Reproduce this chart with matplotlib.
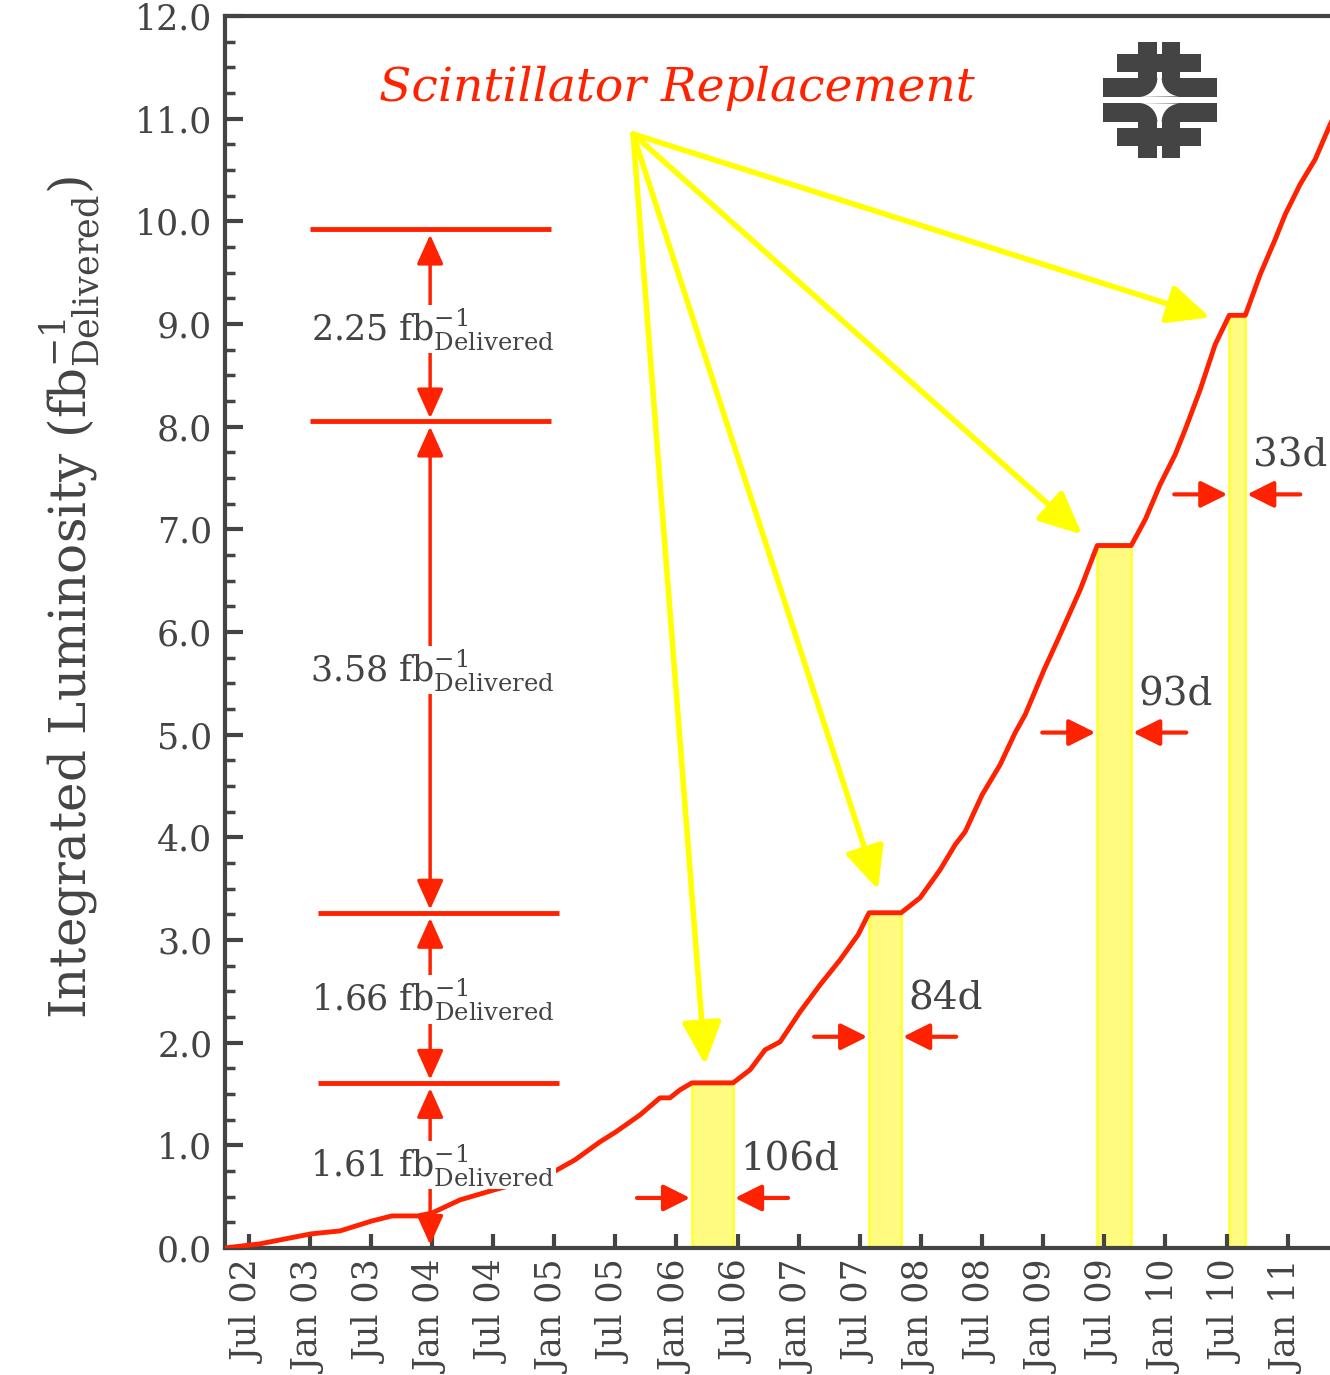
import numpy as np
import matplotlib
matplotlib.use('Agg')
import matplotlib.pyplot as plt
from matplotlib.patches import Rectangle, Polygon
from matplotlib.ticker import MultipleLocator, FormatStrFormatter

plt.rcParams['font.family'] = ['DejaVu Serif']
plt.rcParams['mathtext.fontset'] = 'dejavuserif'

RED = '#ff2200'
GREY = '#444444'

# delivered integrated luminosity (decimal year, fb^-1)
year = [2002.307, 2002.593, 2003.010, 2003.248, 2003.509, 2003.673, 2003.886,
        2004.000, 2004.229, 2004.507, 2004.720, 2004.965, 2005.170, 2005.374,
        2005.505, 2005.702, 2005.865, 2005.947, 2006.029, 2006.127, 2006.463,
        2006.602, 2006.725, 2006.848, 2007.011, 2007.175, 2007.339, 2007.486,
        2007.576, 2007.838, 2007.993, 2008.157, 2008.280, 2008.362, 2008.501,
        2008.648, 2008.771, 2008.853, 2009.008, 2009.139, 2009.303, 2009.442,
        2009.720, 2009.835, 2009.957, 2010.080, 2010.162, 2010.285, 2010.407,
        2010.522, 2010.653, 2010.775, 2010.898, 2010.980, 2011.102, 2011.225,
        2011.348, 2011.470]
lumi = [0.000, 0.040, 0.137, 0.166, 0.263, 0.312, 0.312,
        0.340, 0.468, 0.565, 0.634, 0.721, 0.858, 1.033,
        1.131, 1.296, 1.462, 1.462, 1.540, 1.608, 1.608,
        1.735, 1.930, 2.008, 2.300, 2.563, 2.807, 3.051,
        3.265, 3.265, 3.411, 3.684, 3.928, 4.055, 4.415,
        4.708, 5.020, 5.195, 5.634, 5.975, 6.413, 6.842,
        6.842, 7.096, 7.437, 7.729, 7.973, 8.363, 8.801,
        9.084, 9.084, 9.483, 9.825, 10.068, 10.361, 10.604,
        10.945, 11.240]

# scintillator replacement shutdowns
shut_start = [2006.127, 2007.576, 2009.442, 2010.522]
shut_end = [2006.463, 2007.838, 2009.720, 2010.653]
shut_level = [1.608, 3.265, 6.842, 9.084]
shut_days = ['106d', '84d', '93d', '33d']
days_arrow_y = [0.487, 2.057, 5.020, 7.340]

# yellow pointer tips
pointer_x = [2006.234, 2007.649, 2009.318, 2010.365]
pointer_y = [1.784, 3.489, 6.949, 9.064]
pointer_from = (2005.645, 10.85)

# brackets on the left
bracket_y = [0.0, 1.608, 3.265, 8.05, 9.92]
bracket_text = ['1.61', '1.66', '3.58', '2.25']
bracket_text_y = [0.81, 2.42, 5.63, 8.95]

xtick_pos = np.arange(2002.5, 2011.01, 0.5)
xtick_labels = ['Jul 02', 'Jan 03', 'Jul 03', 'Jan 04', 'Jul 04', 'Jan 05',
                'Jul 05', 'Jan 06', 'Jul 06', 'Jan 07', 'Jul 07', 'Jan 08',
                'Jul 08', 'Jan 09', 'Jul 09', 'Jan 10', 'Jul 10', 'Jan 11']

fig = plt.figure(figsize=(13.3, 13.75), dpi=100)
ax = fig.add_axes([0.16917, 0.0924, 0.8358, 0.8960])
ax.set_xlim(2002.307, 2011.40)
ax.set_ylim(0, 12)

# shaded shutdown bands
for s, e, lvl in zip(shut_start, shut_end, shut_level):
    ax.fill_between([s, e], 0, lvl, color='#fffb80', ec='#ffff3a', lw=2, zorder=1)

ax.plot(year, lumi, color=RED, lw=3.5, zorder=3)

# day counts with inward arrows
for s, e, yy, txt in zip(shut_start, shut_end, days_arrow_y, shut_days):
    ax.annotate('', xy=(s - 0.015, yy), xytext=(s - 0.45, yy),
                arrowprops=dict(arrowstyle='-|>,head_length=0.9,head_width=0.45',
                                mutation_scale=18, color=RED, lw=3,
                                shrinkA=0, shrinkB=0), zorder=4)
    ax.annotate('', xy=(e + 0.015, yy), xytext=(e + 0.45, yy),
                arrowprops=dict(arrowstyle='-|>,head_length=0.9,head_width=0.45',
                                mutation_scale=18, color=RED, lw=3,
                                shrinkA=0, shrinkB=0), zorder=4)
    ax.text(e + 0.06, yy + 0.37, txt, fontsize=28, color=GREY,
            ha='left', va='center', zorder=5)

# brackets
bx_top = (2003.005, 2004.977)
bx_low = (2003.070, 2005.040)
arrow_x = 2003.985
for i, yy in enumerate(bracket_y[1:]):
    x0, x1 = bx_low if i < 2 else bx_top
    ax.plot([x0, x1], [yy, yy], color=RED, lw=3.5, zorder=4,
            solid_capstyle='butt')
for i in range(len(bracket_text)):
    y0, y1 = bracket_y[i], bracket_y[i + 1]
    ax.annotate('', xy=(arrow_x, y1 - 0.05), xytext=(arrow_x, y0 + 0.03),
                arrowprops=dict(arrowstyle='<|-|>,head_length=1.0,head_width=0.45',
                                mutation_scale=18, color=RED, lw=2.5,
                                shrinkA=0, shrinkB=0), zorder=4)
    ax.text(arrow_x + 0.02, bracket_text_y[i],
            bracket_text[i] + r' fb$^{-1}_{\mathrm{Delivered}}$',
            fontsize=25, color=GREY, ha='center', va='center', zorder=6,
            bbox=dict(fc='white', ec='none', pad=1))

# yellow pointers
for px, py in zip(pointer_x, pointer_y):
    ax.annotate('', xy=(px, py), xytext=pointer_from,
                arrowprops=dict(arrowstyle='-|>,head_length=1.3,head_width=0.6',
                                mutation_scale=20, color='#ffff00', lw=4,
                                shrinkA=0, shrinkB=0), zorder=7)

ax.text(2006.0, 11.29, 'Scintillator Replacement', fontsize=34, style='italic',
        color=RED, ha='center', va='center')

# axes styling
for side in ['left', 'bottom', 'top', 'right']:
    ax.spines[side].set_linewidth(3)
    ax.spines[side].set_color(GREY)
ax.set_xticks(xtick_pos)
ax.set_xticklabels(xtick_labels, rotation=90)
ax.yaxis.set_major_locator(MultipleLocator(1.0))
ax.yaxis.set_minor_locator(MultipleLocator(0.25))
ax.yaxis.set_major_formatter(FormatStrFormatter('%.1f'))
ax.tick_params(axis='x', direction='in', length=10, width=3, color=GREY,
               labelcolor=GREY, labelsize=25, pad=9)
ax.tick_params(axis='y', which='major', direction='in', length=13, width=3,
               color=GREY, labelcolor=GREY, labelsize=25, pad=9)
ax.tick_params(axis='y', which='minor', direction='in', length=7, width=2.5,
               color=GREY)
ax.set_ylabel(r'Integrated Luminosity (fb$^{-1}_{\mathrm{Delivered}}$)',
              fontsize=36, color=GREY)
ax.yaxis.set_label_coords(-0.11, 0.528)

# Fermilab logo drawn in its own little axes
lax = fig.add_axes([0.8291, 0.8851, 0.0857, 0.0844])
lax.set_xlim(68, 410)
lax.set_ylim(475, 127)
lax.axis('off')
for flip in [False, True]:
    f = (lambda y: 602 - y) if flip else (lambda y: y)
    rects = [(175, 232, 127, 236), (245, 300, 127, 236),
             (112, 362, 163, 218), (68, 410, 235, 292)]
    for x0, x1, y0, y1 in rects:
        ya, yb = sorted([f(y0), f(y1)])
        lax.add_patch(Rectangle((x0, ya), x1 - x0, yb - ya, color=GREY, lw=0))
    th = np.linspace(0, np.pi / 2, 30)
    left = [(175 + 57 * np.cos(t), f(235 + 57 * np.sin(t))) for t in th]
    right = [(300 - 55 * np.cos(t), f(235 + 55 * np.sin(t))) for t in th[::-1]]
    pts = [(232, f(218))] + left + right + [(245, f(218))]
    lax.add_patch(Polygon(pts, closed=True, color='white', lw=0))

fig.savefig('out.png', dpi=100)
